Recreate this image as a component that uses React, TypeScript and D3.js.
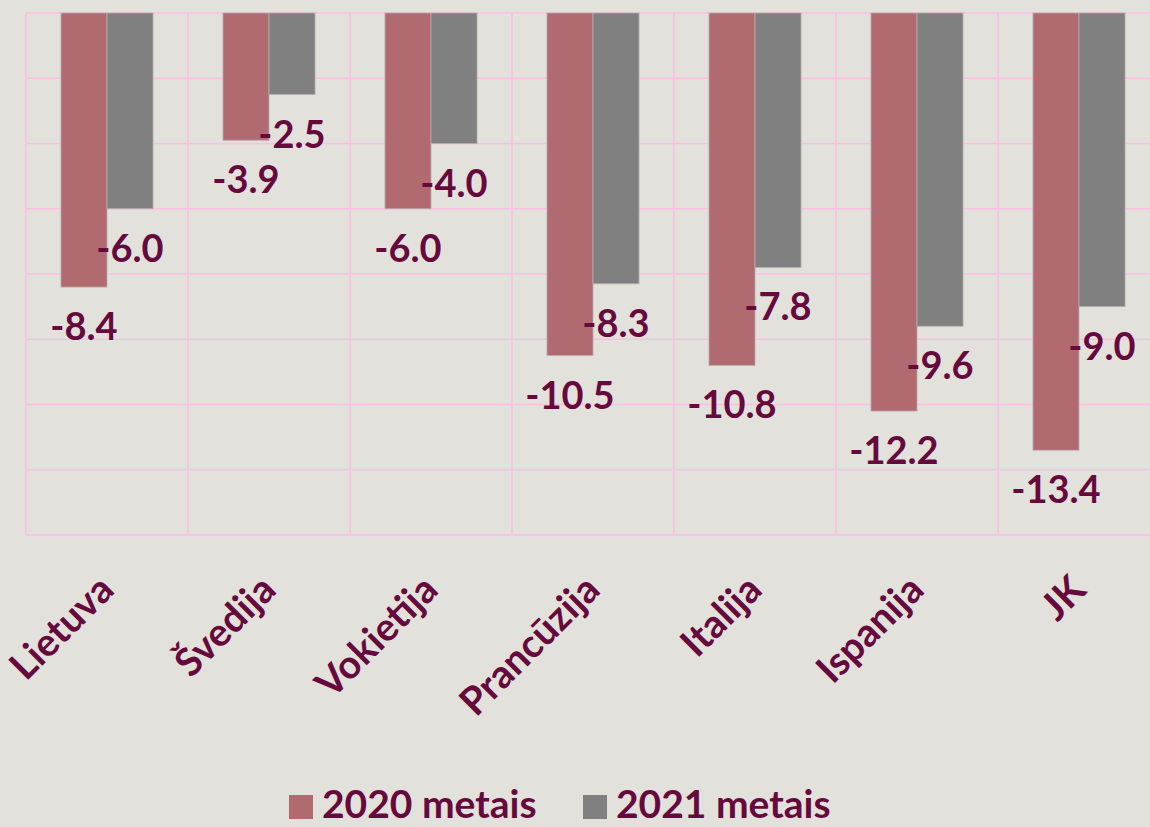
import React from "react";
import * as d3 from "d3";

const categories = ["Lietuva", "Švedija", "Vokietija", "Prancūzija", "Italija", "Ispanija", "JK"];
const series = ["2020 metais", "2021 metais"];
const values2020 = [-8.4, -3.9, -6.0, -10.5, -10.8, -12.2, -13.4];
const values2021 = [-6.0, -2.5, -4.0, -8.3, -7.8, -9.6, -9.0];
const yTicks = [0, -2, -4, -6, -8, -10, -12, -14, -16];

const W = 1150;
const H = 827;
const BG = "#e3e1dc";
const GRID = "#fbbfe0";
const TEXT = "#660a3e";
const COLORS = ["#b06a70", "#808080"];
const FONT = "Lato, 'Open Sans', sans-serif";

export default function App() {
  const x = d3.scaleBand<string>().domain(categories).range([26, 1160]).paddingInner(0).paddingOuter(0);
  const x1 = d3.scaleBand<string>().domain(series).range([0, x.bandwidth()]).paddingInner(0).paddingOuter(0.76);
  const y = d3.scaleLinear().domain([0, -16]).range([13, 535]);
  const data = [values2020, values2021];

  return (
    <svg width={W} height={H} style={{ position: "absolute", left: 0, top: 0, background: BG }} fontFamily={FONT}>
      <rect x={0} y={0} width={W} height={H} fill={BG} />
      {/* grid */}
      {yTicks.map((t) => (
        <line key={"h" + t} x1={x.range()[0]} x2={x.range()[1]} y1={y(t)} y2={y(t)} stroke={GRID} strokeWidth={1.6} />
      ))}
      {categories.map((c) => (
        <line key={"v" + c} x1={x(c)!} x2={x(c)!} y1={y(0)} y2={y(-16)} stroke={GRID} strokeWidth={1.6} />
      ))}
      <line x1={x.range()[1]} x2={x.range()[1]} y1={y(0)} y2={y(-16)} stroke={GRID} strokeWidth={1.6} />
      {/* bars */}
      {series.map((s, si) =>
        categories.map((c, ci) => (
          <rect
            key={s + c}
            x={x(c)! + x1(s)!}
            y={y(0)}
            width={x1.bandwidth()}
            height={y(data[si][ci]) - y(0)}
            fill={COLORS[si]}
            stroke="#b4b0ac"
            strokeWidth={0.8}
          />
        ))
      )}
      {/* labels */}
      {series.map((s, si) =>
        categories.map((c, ci) => (
          <text
            key={"l" + s + c}
            x={x(c)! + x1(s)! + x1.bandwidth() / 2}
            y={y(data[si][ci]) + 53}
            textAnchor="middle"
            fontSize={38}
            fontWeight="bold"
            fill={TEXT}
          >
            {data[si][ci].toFixed(1)}
          </text>
        ))
      )}
      {/* category labels */}
      {categories.map((c) => (
        <text
          key={"c" + c}
          transform={`translate(${x(c)! + x.bandwidth() / 2 + 9},${592}) rotate(-45)`}
          textAnchor="end"
          fontSize={39}
          fontWeight="bold"
          fill={TEXT}
        >
          {c}
        </text>
      ))}
      {/* legend */}
      {series.map((s, si) => {
        const lx = [289, 583][si];
        return (
          <g key={"lg" + s}>
            <rect x={lx} y={795} width={24} height={24} fill={COLORS[si]} />
            <text x={lx + 33} y={818} fontSize={39} fontWeight="bold" fill={TEXT}>
              {s}
            </text>
          </g>
        );
      })}
    </svg>
  );
}
